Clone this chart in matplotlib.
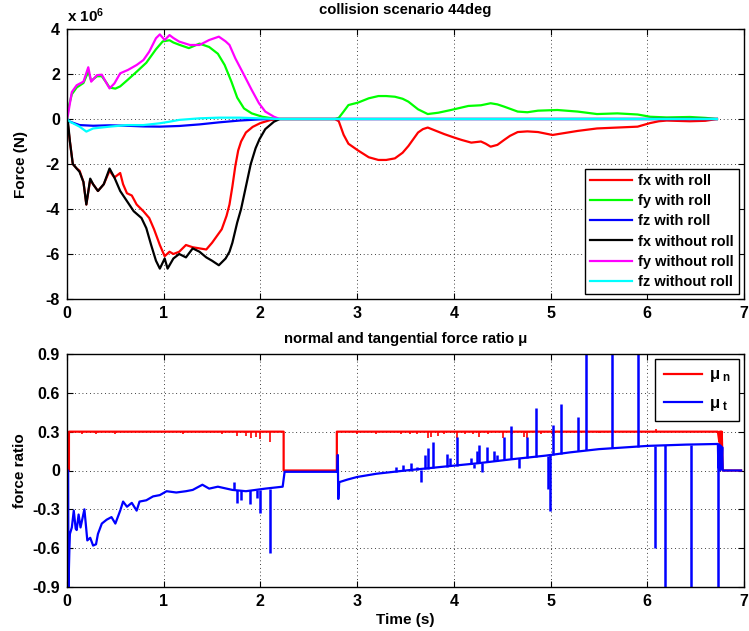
import matplotlib
matplotlib.use('Agg')
import matplotlib.pyplot as plt

# ---- top panel: contact forces (units of 1e6 N) ----
t_fx_roll = [0, 0.01, 0.03, 0.06, 0.1, 0.13, 0.17, 0.2, 0.24, 0.27, 0.32, 0.38, 0.44, 0.49,
             0.55, 0.58, 0.62, 0.67, 0.72, 0.79, 0.85, 0.9, 0.96, 1.01, 1.06, 1.1, 1.16, 1.23,
             1.3, 1.37, 1.44, 1.5, 1.55, 1.6, 1.65, 1.68, 1.71, 1.74, 1.77, 1.8, 1.85, 1.92,
             2.0, 2.1, 2.2, 2.77, 2.81, 2.86, 2.91, 3.01, 3.12, 3.22, 3.3, 3.39, 3.47, 3.53,
             3.58, 3.63, 3.68, 3.73, 3.8, 3.9, 4.0, 4.08, 4.18, 4.28, 4.33, 4.38, 4.45, 4.52,
             4.58, 4.66, 4.76, 4.87, 5.02, 5.15, 5.28, 5.48, 5.69, 5.9, 6.03, 6.12, 6.2, 6.44,
             6.6, 6.72]
fx_roll = [0, -0.3, -1.0, -2.0, -2.2, -2.3, -2.8, -3.8, -2.7, -2.9, -3.2, -2.9, -2.3, -2.6,
           -2.4, -2.9, -3.3, -3.4, -3.8, -4.1, -4.4, -4.9, -5.6, -6.1, -5.9, -6.0, -5.9, -5.6,
           -5.7, -5.75, -5.8, -5.5, -5.2, -4.9, -4.3, -3.8, -3.0, -2.1, -1.4, -1.0, -0.6, -0.35,
           -0.18, -0.05, 0, 0, -0.1, -0.7, -1.1, -1.4, -1.7, -1.82, -1.82, -1.75, -1.5, -1.2,
           -0.9, -0.6, -0.45, -0.38, -0.5, -0.67, -0.82, -0.93, -1.05, -1.0, -1.1, -1.23, -1.15, -0.93,
           -0.75, -0.58, -0.55, -0.58, -0.71, -0.62, -0.53, -0.42, -0.38, -0.34, -0.18, -0.1, -0.07, -0.1,
           -0.08, 0]

t_fy_roll = [0, 0.02, 0.05, 0.1, 0.17, 0.22, 0.25, 0.31, 0.36, 0.41, 0.44, 0.5, 0.55, 0.63,
             0.72, 0.82, 0.92, 0.99, 1.06, 1.1, 1.16, 1.26, 1.37, 1.47, 1.56, 1.63, 1.7, 1.76,
             1.83, 1.91, 2.02, 2.12, 2.2, 2.77, 2.81, 2.86, 2.91, 3.01, 3.12, 3.22, 3.3, 3.39,
             3.47, 3.53, 3.63, 3.73, 3.84, 3.97, 4.15, 4.28, 4.38, 4.45, 4.52, 4.66, 4.76, 4.87,
             5.07, 5.28, 5.48, 5.69, 5.9, 6.03, 6.2, 6.44, 6.6, 6.72]
fy_roll = [0, 0.6, 1.1, 1.4, 1.6, 2.1, 1.7, 1.9, 1.9, 1.6, 1.4, 1.35, 1.45, 1.75,
           2.1, 2.5, 3.1, 3.45, 3.5, 3.4, 3.3, 3.15, 3.35, 3.2, 2.9, 2.4, 1.66, 0.95,
           0.47, 0.25, 0.1, 0.03, 0, 0, 0.05, 0.33, 0.62, 0.73, 0.92, 1.02, 1.02, 0.99,
           0.9, 0.77, 0.43, 0.22, 0.28, 0.4, 0.58, 0.61, 0.7, 0.65, 0.55, 0.33, 0.3, 0.37,
           0.4, 0.33, 0.22, 0.25, 0.2, 0.1, 0.07, 0.09, 0.05, 0]

t_fz_roll = [0, 0.03, 0.13, 0.27, 0.44, 0.62, 0.79, 0.96, 1.16, 1.37, 1.57, 1.78, 1.98, 2.1, 6.72]
fz_roll = [0, -0.12, -0.27, -0.3, -0.28, -0.3, -0.33, -0.34, -0.31, -0.24, -0.15, -0.07, -0.02, 0, 0]

t_fx_noroll = [0, 0.01, 0.03, 0.06, 0.1, 0.13, 0.17, 0.2, 0.24, 0.27, 0.32, 0.38, 0.44, 0.49,
               0.55, 0.62, 0.69, 0.77, 0.82, 0.87, 0.92, 0.96, 1.01, 1.04, 1.1, 1.16, 1.23, 1.3,
               1.37, 1.44, 1.5, 1.57, 1.64, 1.68, 1.71, 1.76, 1.8, 1.85, 1.9, 1.95, 1.99, 2.05,
               2.14, 2.2, 6.72]
fx_noroll = [0, -0.12, -1.0, -2.0, -2.2, -2.35, -2.8, -3.8, -2.65, -2.9, -3.2, -2.9, -2.2, -2.6,
             -3.2, -3.65, -4.1, -4.4, -4.85, -5.6, -6.3, -6.65, -6.2, -6.65, -6.2, -6.0, -6.15, -5.75,
             -5.9, -6.15, -6.3, -6.5, -6.2, -5.9, -5.5, -4.6, -4.0, -3.0, -2.0, -1.3, -0.9, -0.45,
             -0.12, 0, 0]

t_fy_noroll = [0, 0.01, 0.05, 0.1, 0.17, 0.22, 0.25, 0.31, 0.36, 0.41, 0.44, 0.49, 0.55, 0.63,
               0.72, 0.79, 0.85, 0.92, 0.96, 1.01, 1.06, 1.1, 1.16, 1.27, 1.37, 1.47, 1.57, 1.64,
               1.68, 1.74, 1.83, 1.91, 1.985, 2.05, 2.14, 2.2, 6.72]
fy_noroll = [0, 0.18, 1.2, 1.5, 1.66, 2.3, 1.66, 1.95, 1.97, 1.58, 1.36, 1.58, 2.03, 2.18,
             2.4, 2.62, 2.99, 3.59, 3.76, 3.51, 3.73, 3.6, 3.44, 3.29, 3.29, 3.51, 3.66, 3.45,
             3.29, 2.7, 1.96, 1.29, 0.7, 0.33, 0.1, 0, 0]

t_fz_noroll = [0, 0.03, 0.13, 0.2, 0.27, 0.44, 0.62, 0.79, 0.96, 1.06, 1.16, 1.37, 1.57, 1.78, 1.98, 2.2, 6.72]
fz_noroll = [0, -0.12, -0.34, -0.56, -0.42, -0.34, -0.27, -0.27, -0.19, -0.12, -0.04, 0.03, 0.06, 0.06, 0.03, 0, 0]

# ---- bottom panel: force ratios ----
t_mun = [0, 0.02, 0.02, 2.24, 2.24, 2.79, 2.79, 6.73, 6.745, 6.75, 6.755, 6.76, 6.765, 6.77, 6.78, 6.97]
mun = [0, 0, 0.3, 0.3, 0, 0, 0.3, 0.3, 0.22, 0.3, 0.2, 0.3, 0.22, 0.3, 0, 0]
# small dips / bumps on mu_n: time, tip value
mun_spk_t = [0.15, 0.3, 0.5, 1.2, 1.6, 1.76, 1.85, 1.9, 1.95, 2.0, 2.1, 3.0, 3.2, 3.45, 3.55, 3.62,
             3.73, 3.76, 3.84, 3.9, 4.03, 4.12, 4.2, 4.26, 4.35, 4.51, 4.6, 4.73, 4.76, 4.9, 5.02,
             5.5, 6.09]
mun_spk = [0.28, 0.285, 0.285, 0.285, 0.28, 0.27, 0.27, 0.25, 0.26, 0.24, 0.22, 0.285, 0.285, 0.28,
           0.28, 0.28, 0.25, 0.26, 0.27, 0.28, 0.25, 0.28, 0.28, 0.26, 0.28, 0.25, 0.28, 0.26, 0.25,
           0.28, 0.27, 0.29, 0.32]

t_mut = [0, 0.012, 0.015, 0.025, 0.03, 0.05, 0.07, 0.09, 0.1, 0.12, 0.14, 0.16, 0.18, 0.2, 0.21,
         0.24, 0.27, 0.3, 0.32, 0.36, 0.41, 0.46, 0.5, 0.55, 0.58, 0.62, 0.67, 0.72, 0.75, 0.82,
         0.89, 0.96, 1.03, 1.13, 1.23, 1.3, 1.4, 1.47, 1.56, 1.65, 1.71, 1.85, 2.05, 2.23, 2.25,
         2.795, 2.8, 2.805, 2.815, 2.9, 3.0, 3.2, 3.5, 3.9, 4.25, 4.6, 4.95, 5.2, 5.5, 6.0, 6.4,
         6.73, 6.735, 6.745, 6.75, 6.76, 6.765, 6.775, 6.78, 6.97]
mut = [0, 0, -0.9, -0.6, -0.49, -0.44, -0.31, -0.45, -0.46, -0.34, -0.44, -0.37, -0.3, -0.46, -0.54,
       -0.52, -0.58, -0.57, -0.49, -0.41, -0.38, -0.36, -0.41, -0.31, -0.24, -0.28, -0.25, -0.31, -0.24, -0.23,
       -0.2, -0.19, -0.16, -0.17, -0.16, -0.15, -0.11, -0.14, -0.125, -0.14, -0.15, -0.16, -0.14, -0.125, -0.01,
       -0.01, 0.12, -0.22, -0.09, -0.07, -0.05, -0.025, 0.0, 0.03, 0.056, 0.087, 0.115, 0.14, 0.165, 0.19, 0.2,
       0.205, 0.02, 0.2, 0.0, 0.19, 0.01, 0.18, 0, 0]
# spikes on mu_t: time, base value, tip value
mut_spk_t = [1.73, 1.76, 1.8, 1.89, 1.96, 2.0, 2.1, 3.4, 3.47, 3.56, 3.62, 3.66, 3.7, 3.73, 3.78,
             3.93, 3.96, 4.03, 4.18, 4.21, 4.24, 4.26, 4.29, 4.34, 4.42, 4.45, 4.52, 4.59, 4.67,
             4.76, 4.85, 4.97, 4.99, 5.02, 5.11, 5.28, 5.37, 5.64, 5.9, 6.08, 6.18, 6.45, 6.73]
mut_spk_base = [-0.15, -0.15, -0.15, -0.15, -0.15, -0.15, -0.14, -0.01, -0.005, 0.0, 0.005, 0.007, 0.01,
                0.012, 0.016, 0.03, 0.032, 0.038, 0.05, 0.052, 0.055, 0.056, 0.058, 0.062, 0.07, 0.073,
                0.08, 0.087, 0.093, 0.1, 0.107, 0.115, 0.116, 0.118, 0.125, 0.15, 0.157, 0.172, 0.185,
                0.19, 0.195, 0.2, 0.205]
mut_spk_tip = [-0.087, -0.25, -0.23, -0.26, -0.21, -0.33, -0.64, 0.03, 0.04, 0.056, 0.03, -0.087, 0.12,
               0.17, 0.22, 0.13, 0.1, 0.26, 0.1, 0.02, 0.15, 0.2, -0.01, 0.18, 0.15, 0.12, 0.26, 0.345,
               0.02, 0.26, 0.48, -0.14, -0.31, 0.35, 0.51, 0.41, 0.95, 0.95, 0.95, -0.6, -0.95, -0.95,
               -0.95]

top_ticks = [-8, -6, -4, -2, 0, 2, 4]
bot_ticks = [-0.9, -0.6, -0.3, 0, 0.3, 0.6, 0.9]
bot_ticklabels = ['-0.9', '-0.6', '-0.3', '0', '0.3', '0.6', '0.9']
x_ticks = [0, 1, 2, 3, 4, 5, 6, 7]

plt.rcParams['font.family'] = 'Liberation Sans'
plt.rcParams['font.weight'] = 'bold'
plt.rcParams['font.size'] = 11
plt.rcParams['axes.unicode_minus'] = False
plt.rcParams['axes.titleweight'] = 'bold'
plt.rcParams['axes.labelweight'] = 'bold'
plt.rcParams['mathtext.fontset'] = 'custom'
plt.rcParams['mathtext.rm'] = 'Liberation Sans:bold'
plt.rcParams['mathtext.it'] = 'Liberation Sans:bold'
plt.rcParams['mathtext.bf'] = 'Liberation Sans:bold'

fig = plt.figure(figsize=(7.49, 6.31), dpi=100)
ax1 = fig.add_axes([67/749, 1-299/631, 677/749, 270/631])
ax2 = fig.add_axes([67/749, 1-587/631, 677/749, 233/631])

lw = 1.6
ax1.plot(t_fx_roll, fx_roll, color='#ff0000', lw=lw, label='fx with roll')
ax1.plot(t_fy_roll, fy_roll, color='#00ff00', lw=lw, label='fy with roll')
ax1.plot(t_fz_roll, fz_roll, color='#0000ff', lw=lw, label='fz with roll')
ax1.plot(t_fx_noroll, fx_noroll, color='#000000', lw=lw, label='fx without roll')
ax1.plot(t_fy_noroll, fy_noroll, color='#ff00ff', lw=lw, label='fy without roll')
ax1.plot(t_fz_noroll, fz_noroll, color='#00ffff', lw=lw, label='fz without roll')

ax2.plot(t_mun, mun, color='#ff0000', lw=lw, label='\u03bc$_{\\ n}$')
ax2.vlines(mun_spk_t, 0.3, mun_spk, color='#ff0000', lw=1.2)
ax2.plot(t_mut, mut, color='#0000ff', lw=lw, label='\u03bc$_{\\ t}$')
ax2.vlines(mut_spk_t, mut_spk_base, mut_spk_tip, color='#0000ff', lw=1.8)

for ax in (ax1, ax2):
    ax.set_xlim(0, 7)
    ax.set_xticks(x_ticks)
    ax.grid(True, color='k', linestyle=(0, (1, 3.5)), linewidth=0.6)
    ax.tick_params(direction='in', top=True, right=True, length=4, width=0.8, labelsize=11.5, pad=5)
    for s in ax.spines.values():
        s.set_linewidth(1.0)

ax1.set_ylim(-8, 4)
ax1.set_yticks(top_ticks)
ax1.set_ylabel('Force (N)', labelpad=13)
ax1.set_title('collision scenario 44deg', fontsize=10.7, pad=11)
ax1.text(0.0, 1.015, 'x 10$^6$', transform=ax1.transAxes, fontsize=11, ha='left', va='bottom')
leg1 = ax1.legend(loc='lower right', fontsize=10.5, handlelength=2.9, fancybox=False, framealpha=1,
                  edgecolor='k', borderaxespad=0.35, labelspacing=0.42, borderpad=0.35, handletextpad=0.4)
leg1.get_frame().set_linewidth(1.0)

ax2.set_ylim(-0.9, 0.9)
ax2.set_yticks(bot_ticks)
ax2.set_yticklabels(bot_ticklabels)
ax2.set_ylabel('force ratio', labelpad=4)
ax2.set_xlabel('Time (s)', labelpad=3)
ax2.set_title('normal and tangential force ratio \u03bc', fontsize=10.7, pad=8)
leg2 = ax2.legend(loc='upper right', fontsize=12, handlelength=2.3, fancybox=False, framealpha=1,
                  edgecolor='k', borderaxespad=0.3, labelspacing=0.7, borderpad=0.5, handletextpad=0.4)
leg2.get_frame().set_linewidth(1.0)

fig.savefig('out.png', dpi=100)
